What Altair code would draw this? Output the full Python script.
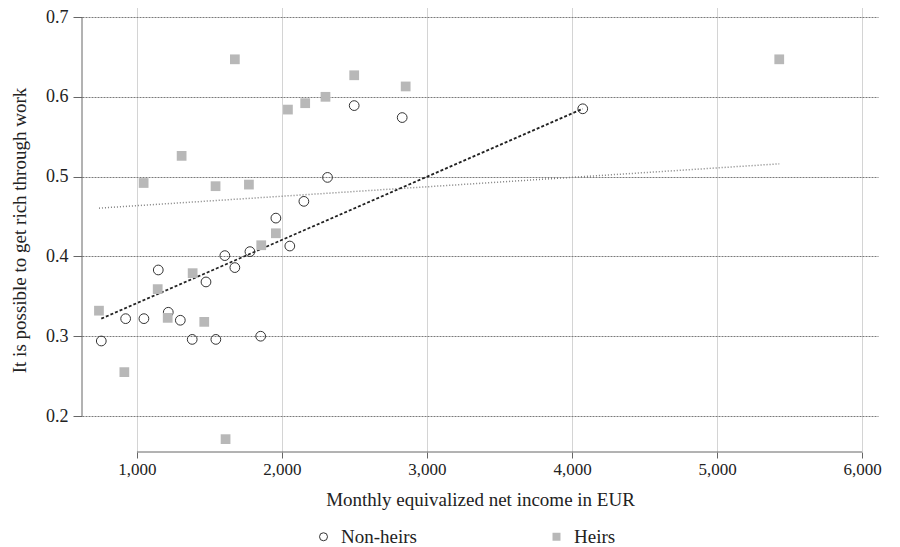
import altair as alt
import pandas as pd

GROUPS = ["Non-heirs", "Heirs"]

nonheirs_income = [754, 922, 1048, 1147, 1216, 1299, 1381, 1476, 1544, 1606,
                   1675, 1779, 1853, 1958, 2054, 2151, 2314, 2498, 2829, 4074]
nonheirs_rich = [0.294, 0.322, 0.322, 0.383, 0.330, 0.320, 0.296, 0.368, 0.296, 0.401,
                 0.386, 0.406, 0.300, 0.448, 0.413, 0.469, 0.499, 0.589, 0.574, 0.585]

heirs_income = [738, 913, 1046, 1143, 1212, 1308, 1384, 1464, 1542, 1611,
                1675, 1772, 1857, 1958, 2041, 2160, 2300, 2498, 2853, 5429]
heirs_rich = [0.332, 0.255, 0.492, 0.359, 0.323, 0.526, 0.379, 0.318, 0.488, 0.171,
              0.647, 0.490, 0.414, 0.429, 0.584, 0.592, 0.600, 0.627, 0.613, 0.647]

# trend line end points
nonheirs_trend_income = [754, 4074]
nonheirs_trend_rich = [0.322, 0.585]
heirs_trend_income = [738, 5429]
heirs_trend_rich = [0.4605, 0.516]

X_TICKS = [1000, 2000, 3000, 4000, 5000, 6000]
Y_TICKS = [0.2, 0.3, 0.4, 0.5, 0.6, 0.7]
X_DOMAIN = [621, 6110]
Y_DOMAIN = [0.1549, 0.7113]

FONT = "Liberation Serif"
TXT = "#222222"

pts = pd.concat([
    pd.DataFrame({"income": nonheirs_income, "rich": nonheirs_rich, "group": "Non-heirs"}),
    pd.DataFrame({"income": heirs_income, "rich": heirs_rich, "group": "Heirs"}),
], ignore_index=True)

trend_nh = pd.DataFrame({"income": nonheirs_trend_income, "rich": nonheirs_trend_rich})
trend_h = pd.DataFrame({"income": heirs_trend_income, "rich": heirs_trend_rich})

x_enc = alt.X(
    "income:Q",
    scale=alt.Scale(domain=X_DOMAIN, nice=False, zero=False),
    axis=alt.Axis(
        title="Monthly equivalized net income in EUR",
        values=X_TICKS, format=",.0f", domain=False,
        labelFont=FONT, labelFontSize=17, labelColor=TXT,
        titleFont=FONT, titleFontSize=19, titleColor=TXT, titleFontWeight="normal",
        tickSize=6, tickColor="#666666", labelPadding=3,
        gridColor="#a8a8a8", gridDash=[1, 1], gridWidth=1,
        titlePadding=13,
    ),
)
y_enc = alt.Y(
    "rich:Q",
    scale=alt.Scale(domain=Y_DOMAIN, nice=False, zero=False),
    axis=alt.Axis(
        title="It is possible to get rich through work",
        values=Y_TICKS, format=".1f", domain=False,
        labelFont=FONT, labelFontSize=18, labelColor=TXT,
        titleFont=FONT, titleFontSize=19, titleColor=TXT, titleFontWeight="normal",
        tickSize=9, tickColor="#666666", labelPadding=5,
        gridColor="#7a7a7a", gridDash=[2, 1], gridWidth=1,
        titlePadding=16,
    ),
)

yline = pd.DataFrame({"income": [X_DOMAIN[0]], "rich": [Y_TICKS[0]], "rich2": [Y_TICKS[-1]]})
xline = pd.DataFrame({"income": [X_TICKS[0]], "income2": [X_TICKS[-1]], "rich": [Y_DOMAIN[0]]})

yaxis_line = alt.Chart(yline).mark_rule(color="#666666", strokeWidth=1).encode(
    x=x_enc, y=y_enc, y2="rich2:Q")
xaxis_line = alt.Chart(xline).mark_rule(color="#666666", strokeWidth=1).encode(
    x=x_enc, x2="income2:Q", y=y_enc)

line_h = alt.Chart(trend_h).mark_line(color="#808080", strokeWidth=1.5, strokeDash=[1, 2]).encode(
    x=x_enc, y=y_enc)
line_nh = alt.Chart(trend_nh).mark_line(color="#222222", strokeWidth=1.8, strokeDash=[3, 2]).encode(
    x=x_enc, y=y_enc)

legend = alt.Legend(
    title=None, orient="none", direction="horizontal",
    legendX=232, legendY=519, padding=0,
    labelFont=FONT, labelFontSize=19, labelColor=TXT,
    symbolSize=64, symbolStrokeWidth=1, labelOffset=8, columnPadding=130,
)

points = alt.Chart(pts).mark_point(size=95, strokeWidth=1, opacity=1).encode(
    x=x_enc, y=y_enc,
    shape=alt.Shape("group:N", scale=alt.Scale(domain=GROUPS, range=["circle", "square"]), legend=legend),
    fill=alt.Fill("group:N", scale=alt.Scale(domain=GROUPS, range=["transparent", "#b8b8b8"]), legend=legend),
    stroke=alt.Stroke("group:N", scale=alt.Scale(domain=GROUPS, range=["#333333", "transparent"]), legend=legend),
)

chart = alt.layer(yaxis_line, xaxis_line, line_h, line_nh, points).properties(
    width=796, height=444,
    autosize=alt.AutoSizeParams(type="none"),
    padding={"left": 74, "top": 0, "right": 14, "bottom": 95},
).configure_view(stroke=None).configure_axis(
    labelFont=FONT, labelColor=TXT,
    titleFont=FONT, titleFontSize=19, titleColor=TXT, titleFontWeight="normal",
)

chart.save("out.html", embed_options={"renderer": "svg", "actions": False})
